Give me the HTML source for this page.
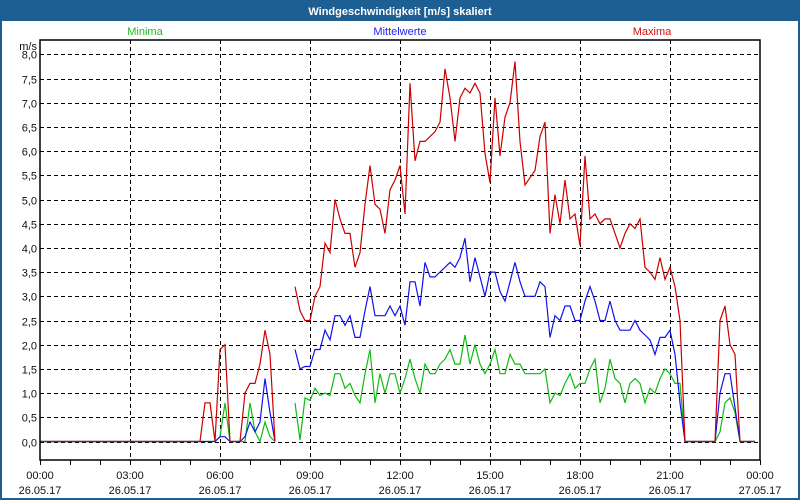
<!DOCTYPE html>
<html><head><meta charset="utf-8">
<style>
html,body{margin:0;padding:0;background:#fff;}
#wrap{position:relative;width:800px;height:500px;overflow:hidden;font-family:"Liberation Sans",sans-serif;}
svg text{font-family:"Liberation Sans",sans-serif;font-size:11px;}
</style></head>
<body>
<div id="wrap">
<svg id="chart" width="800" height="500" viewBox="0 0 800 500">
  <rect x="0" y="0" width="800" height="500" fill="#1d5e93"/>
  <rect x="2" y="21" width="796" height="477" fill="#ffffff"/>
  <text x="400" y="15" text-anchor="middle" fill="#ffffff" font-weight="bold">Windgeschwindigkeit [m/s] skaliert</text>
  <text x="145" y="35" text-anchor="middle" fill="#22bb22">Minima</text>
  <text x="400" y="35" text-anchor="middle" fill="#2222ee">Mittelwerte</text>
  <text x="652" y="35" text-anchor="middle" fill="#cc1111">Maxima</text>
  <text x="37" y="50" text-anchor="end" fill="#111">m/s</text>
  <g id="grid"></g>
  <g id="series"></g>
  <rect x="40" y="40" width="720" height="420" fill="none" stroke="#000" stroke-width="1.5"/>
  <g id="axes"></g>
</svg>
</div>
<script>
const yTicks = [0,0.5,1,1.5,2,2.5,3,3.5,4,4.5,5,5.5,6,6.5,7,7.5,8];
const yTickLabels = ["0,0","0,5","1,0","1,5","2,0","2,5","3,0","3,5","4,0","4,5","5,0","5,5","6,0","6,5","7,0","7,5","8,0"];
const xTicks = [0,3,6,9,12,15,18,21,24];
const xTimeLabels = ["00:00","03:00","06:00","09:00","12:00","15:00","18:00","21:00","00:00"];
const xDateLabels = ["26.05.17","26.05.17","26.05.17","26.05.17","26.05.17","26.05.17","26.05.17","26.05.17","27.05.17"];
const stepHours = 1/6;
const maxima = [0,0,0,0,0,0,0,0,0,0,0,0,0,0,0,0,0,0,0,0,0,0,0,0,0,0,0,0,0,0,0,0,0,
 0.8,0.8,0,1.9,2.0,0,0,0,1.0,1.2,1.2,1.6,2.3,1.8,0,
 null,null,null,
 3.2,2.7,2.5,2.5,3.0,3.2,4.1,3.9,5.0,4.6,4.3,4.3,3.6,3.9,4.9,5.7,4.9,4.8,4.3,5.2,5.4,5.7,4.7,7.4,5.8,6.2,6.2,6.3,6.4,6.6,7.7,7.1,6.2,7.1,7.3,7.2,7.4,7.2,5.95,5.35,7.1,5.9,6.7,7.0,7.85,6.2,5.3,5.45,5.6,6.3,6.6,4.3,5.1,4.5,5.4,4.6,4.7,4.05,5.9,4.6,4.7,4.5,4.6,4.6,4.3,4.0,4.3,4.5,4.4,4.6,3.6,3.5,3.35,3.8,3.35,3.6,3.2,2.5,0,
 0,0,0,0,0,0,2.5,2.8,2.0,1.8,0,0,0,0];
const mittelwerte = [0,0,0,0,0,0,0,0,0,0,0,0,0,0,0,0,0,0,0,0,0,0,0,0,0,0,0,0,0,0,0,0,0,0,0,0,
 0.1,0.1,0,0,0,0.1,0.4,0.2,0.4,1.3,0.6,0,
 null,null,null,
 1.9,1.5,1.55,1.55,1.9,1.9,2.3,2.1,2.6,2.6,2.4,2.6,2.15,2.15,2.7,3.2,2.6,2.6,2.6,2.8,2.6,2.8,2.4,3.3,3.3,2.8,3.7,3.4,3.4,3.5,3.6,3.7,3.6,3.8,4.2,3.3,3.8,3.4,3.0,3.5,3.5,3.1,2.9,3.3,3.7,3.3,3.0,3.0,3.0,3.3,3.2,2.15,2.6,2.5,2.8,2.8,2.5,2.5,2.9,3.2,2.9,2.5,2.5,2.9,2.5,2.3,2.3,2.3,2.5,2.3,2.2,2.1,1.8,2.15,2.15,2.3,1.8,0.8,0,
 0,0,0,0,0,0,1.0,1.4,1.4,0.7,0,0,0,0];
const minima = [0,0,0,0,0,0,0,0,0,0,0,0,0,0,0,0,0,0,0,0,0,0,0,0,0,0,0,0,0,0,0,0,0,0,0,0,
 0.1,0.8,0,0,0,0,0.8,0.2,0,0.4,0.1,0,
 null,null,null,
 0.8,0.03,0.9,0.85,1.1,0.95,1.0,0.95,1.4,1.4,1.1,1.2,0.95,0.8,1.4,1.9,0.8,1.4,1.0,1.4,1.4,1.0,1.3,1.7,1.3,1.0,1.6,1.4,1.4,1.6,1.7,1.9,1.6,1.6,2.2,1.6,2.0,1.6,1.4,1.6,1.9,1.4,1.4,1.8,1.6,1.6,1.4,1.4,1.4,1.4,1.5,0.8,1.0,0.95,1.2,1.4,1.1,1.2,1.2,1.5,1.7,0.8,1.1,1.7,1.3,1.2,0.8,1.2,1.3,1.2,0.8,1.1,1.0,1.3,1.5,1.4,1.2,1.2,0,
 0,0,0,0,0,0,0.2,0.8,0.9,0.6,0,0,0,0];

const NS = "http://www.w3.org/2000/svg";
function xScale(h){ return 40 + h*30; }
function yScale(v){ return 441.5 - v*48.4; }
function mk(tag, attrs){ const e = document.createElementNS(NS, tag); for (const k in attrs) e.setAttribute(k, attrs[k]); return e; }

const grid = document.getElementById('grid');
const axes = document.getElementById('axes');
yTicks.forEach((v,i)=>{
  const y = Math.round(yScale(v))+0.5;
  const ln = mk('line',{x1:40,x2:760,y1:y,y2:y,stroke:'#000','stroke-width':1,'stroke-dasharray':'4,3'});
  
  
  grid.appendChild(ln);
  const t = mk('text',{x:37,y:y+4,'text-anchor':'end',fill:'#111'});
  t.textContent = yTickLabels[i];
  
  
  axes.appendChild(t);
});
xTicks.forEach((h,i)=>{
  const x = Math.round(xScale(h))+0.5;
  if (i>0 && i<xTicks.length-1){
    const ln = mk('line',{x1:x,x2:x,y1:40,y2:460,stroke:'#000','stroke-width':1,'stroke-dasharray':'4,3'});
    
    
    grid.appendChild(ln);
  }
  const t1 = mk('text',{x:xScale(h),y:479,'text-anchor':'middle',fill:'#111'});
  t1.textContent = xTimeLabels[i];
  
  
  axes.appendChild(t1);
  const t2 = mk('text',{x:xScale(h),y:494,'text-anchor':'middle',fill:'#111'});
  t2.textContent = xDateLabels[i];
  
  
  axes.appendChild(t2);
});
for (let h=0; h<=24; h++){
  const x = Math.round(xScale(h))+0.5;
  const tk = mk('line',{x1:x,x2:x,y1:460,y2:465,stroke:'#000','stroke-width':1});
  
  
  axes.appendChild(tk);
}

const seriesG = document.getElementById('series');
function drawSeries(vals, color, name){
  let d = '', pen = false;
  vals.forEach((v,i)=>{
    if (v === null){ pen = false; return; }
    const x = xScale(i*stepHours), y = yScale(v);
    d += (pen ? 'L' : 'M') + x.toFixed(1) + ' ' + y.toFixed(1) + ' ';
    pen = true;
  });
  const p = mk('path',{d:d,fill:'none',stroke:color,'stroke-width':1.2,'stroke-linejoin':'miter'});
  
  
  seriesG.appendChild(p);
}
drawSeries(minima, '#11bb11', 'series-minima');
drawSeries(mittelwerte, '#1111ee', 'series-mittelwerte');
drawSeries(maxima, '#cc0000', 'series-maxima');
</script>
</body></html>
